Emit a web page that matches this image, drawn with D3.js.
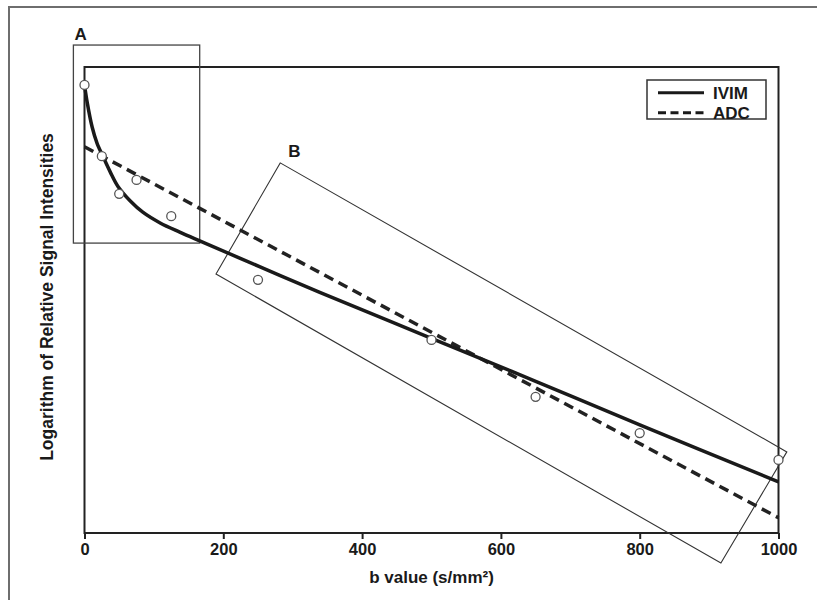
<!DOCTYPE html>
<html>
<head>
<meta charset="utf-8">
<script src="https://cdn.jsdelivr.net/npm/d3@7"></script>
<style>
  html, body { margin: 0; padding: 0; background: #fff; }
  svg { display: block; }
  text { font-family: "Liberation Sans", Arial, sans-serif; font-weight: bold; fill: #1a1a1a; }
</style>
</head>
<body>
<svg id="chart" width="817" height="600"></svg>
<script>
// ---- data (b value in s/mm², log relative signal in arbitrary units) ----
const xTicks = [0, 200, 400, 600, 800, 1000];
const pointB = [0, 25, 50, 75, 125, 250, 500, 650, 800, 1000];
const pointLogS = [0, -0.159, -0.243, -0.212, -0.293, -0.435, -0.569, -0.696, -0.777, -0.837];
const ivimB = [0, 4, 11, 18, 27, 37, 48, 66, 84, 109, 138, 166, 253, 339, 499, 651, 801, 1000];
const ivimLogS = [0, -0.040, -0.094, -0.130, -0.161, -0.194, -0.226, -0.259, -0.284, -0.308, -0.329, -0.348, -0.406, -0.463, -0.565, -0.662, -0.759, -0.886];
const adcB = [0, 1000];
const adcLogS = [-0.138, -0.966];
const boxAB = [-16, 166];
const boxALogS = [0.089, -0.353];
const boxBB = [282, 1012, 917, 189.5];
const boxBLogS = [-0.174, -0.819, -1.067, -0.422];
const legendLabels = ["IVIM", "ADC"];

const svg = d3.select("#chart");
const x = d3.scaleLinear().domain([0, 1000]).range([84.5, 778.5]);
const y = d3.scaleLinear().domain([-1.0, 0.04]).range([533, 67]);

// outer frame
svg.append("rect").attr("x", 9).attr("y", 7).attr("width", 840).attr("height", 620)
  .attr("fill", "none").attr("stroke", "#6e6e6e").attr("stroke-width", 2);

// plot frame
svg.append("rect").attr("x", x(0)).attr("y", y(0.04))
  .attr("width", x(1000) - x(0)).attr("height", y(-1.0) - y(0.04))
  .attr("fill", "none").attr("stroke", "#222").attr("stroke-width", 2);

// x axis
const xAxis = d3.axisBottom(x).tickValues(xTicks).tickSize(6).tickPadding(4).tickFormat(d3.format("d"));
const gx = svg.append("g").attr("transform", `translate(0,${y(-1.0)})`).call(xAxis);
gx.select(".domain").remove();
gx.selectAll(".tick line").attr("stroke", "#222").attr("stroke-width", 2);
gx.selectAll(".tick text").attr("font-size", 16.5).attr("font-family", "Liberation Sans, Arial, sans-serif")
  .attr("font-weight", "bold").attr("fill", "#1a1a1a");

// axis titles
svg.append("text").attr("x", (x(0) + x(1000)) / 2).attr("y", 583)
  .attr("text-anchor", "middle").attr("font-size", 17)
  .text("b value (s/mm²)");
svg.append("text").attr("transform", `translate(53,${(y(0.04) + y(-1.0)) / 2 - 3}) rotate(-90)`)
  .attr("text-anchor", "middle").attr("font-size", 17.5)
  .text("Logarithm of Relative Signal Intensities");

// annotation boxes
svg.append("rect")
  .attr("x", x(boxAB[0])).attr("y", y(boxALogS[0]))
  .attr("width", x(boxAB[1]) - x(boxAB[0])).attr("height", y(boxALogS[1]) - y(boxALogS[0]))
  .attr("fill", "none").attr("stroke", "#444").attr("stroke-width", 1.3);
svg.append("text").attr("x", x(boxAB[0]) + 1).attr("y", y(boxALogS[0]) - 5)
  .attr("font-size", 17).text("A");

const boxBPts = boxBB.map((b, i) => [x(b), y(boxBLogS[i])]);
svg.append("path").attr("d", d3.line()(boxBPts) + "Z")
  .attr("fill", "none").attr("stroke", "#333").attr("stroke-width", 1.1);
svg.append("text").attr("x", boxBPts[0][0] + 8).attr("y", boxBPts[0][1] - 6)
  .attr("font-size", 17).text("B");

// lines
const ivimData = ivimB.map((b, i) => [b, ivimLogS[i]]);
const adcData = adcB.map((b, i) => [b, adcLogS[i]]);
const line = d3.line().x(d => x(d[0])).y(d => y(d[1])).curve(d3.curveCatmullRom.alpha(0.5));

svg.append("path").datum(adcData).attr("d", line)
  .attr("fill", "none").attr("stroke", "#222").attr("stroke-width", 3.5)
  .attr("stroke-dasharray", "10,6");
svg.append("path").datum(ivimData).attr("d", line)
  .attr("fill", "none").attr("stroke", "#1a1a1a").attr("stroke-width", 3.5);

// points
svg.selectAll("circle.pt").data(pointB.map((b, i) => [b, pointLogS[i]])).enter()
  .append("circle").attr("class", "pt")
  .attr("cx", d => x(d[0])).attr("cy", d => y(d[1])).attr("r", 4.5)
  .attr("fill", "#fff").attr("stroke", "#555").attr("stroke-width", 1.3);

// legend
const lg = svg.append("g");
lg.append("rect").attr("x", 647).attr("y", 80).attr("width", 119).attr("height", 39)
  .attr("fill", "#fff").attr("stroke", "#333").attr("stroke-width", 1.5);
legendLabels.forEach((lab, i) => {
  const yy = 92.7 + i * 20;
  lg.append("line").attr("x1", 658).attr("x2", 704).attr("y1", yy).attr("y2", yy)
    .attr("stroke", "#1a1a1a").attr("stroke-width", 3)
    .attr("stroke-dasharray", i === 1 ? "8,4.5" : null);
  lg.append("text").attr("x", 713).attr("y", yy + 6).attr("font-size", 17).text(lab);
});
</script>
</body>
</html>
